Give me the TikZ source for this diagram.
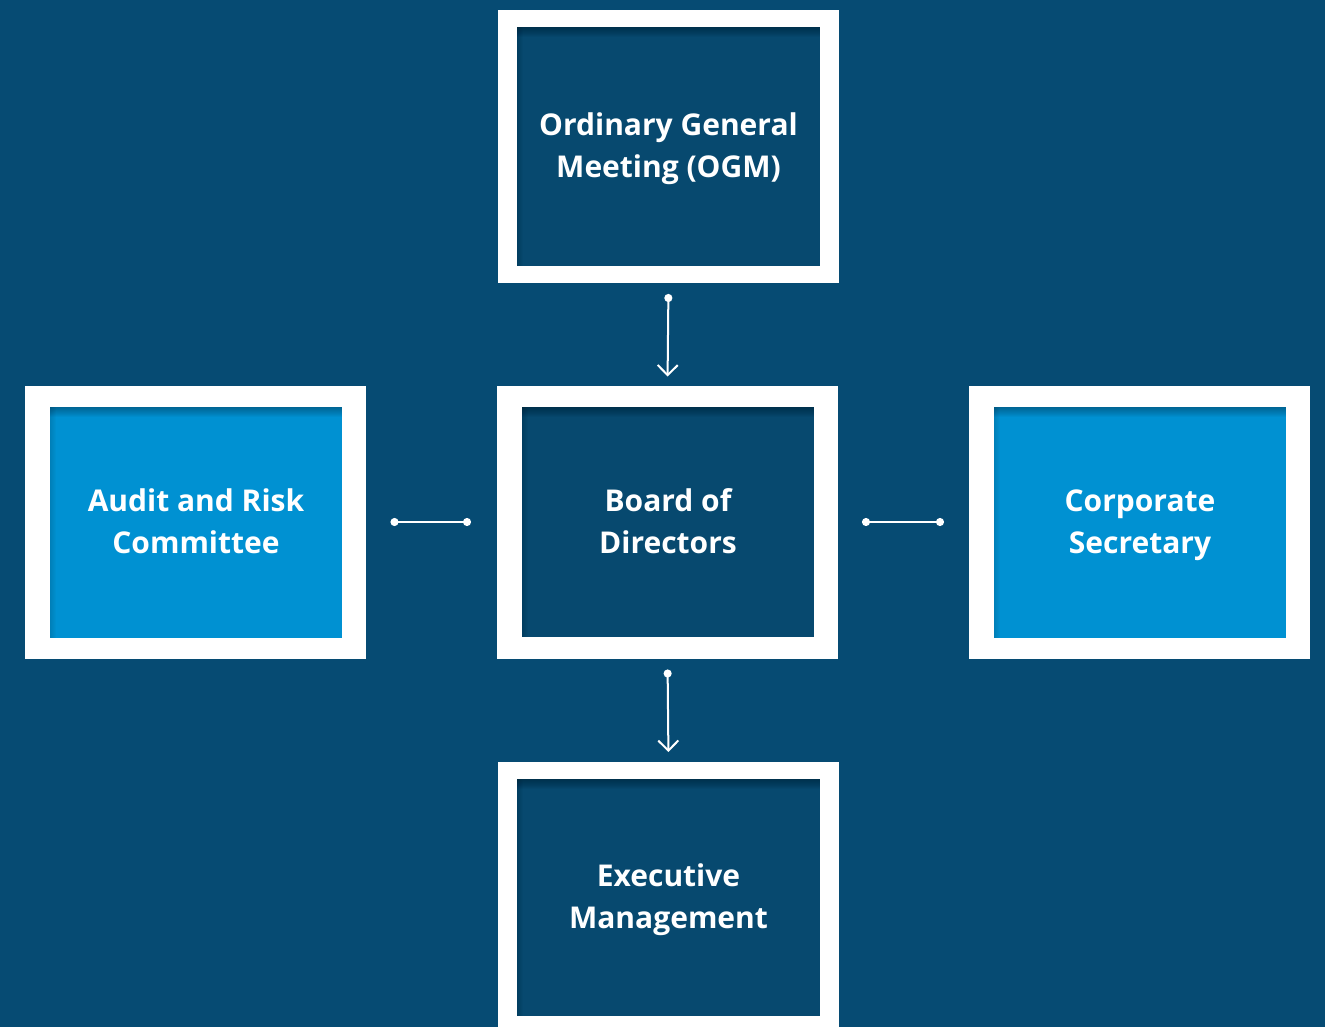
\documentclass[tikz,border=0pt]{standalone}
\usepackage{fontspec}
\setmainfont{Open Sans}
\usetikzlibrary{arrows.meta}

\definecolor{navy}{HTML}{064B73}
\definecolor{deep}{HTML}{07496F}
\definecolor{sky}{HTML}{0091D2}

\tikzset{
  frame/.style={fill=white, draw=none, inner sep=0pt, outer sep=0pt,
    minimum width=341pt, minimum height=273pt},
  panel/.style={draw=none, inner sep=0pt, outer sep=0pt, text=white,
    align=center, font=\bfseries\fontsize{30}{42}\selectfont},
  darkpanel/.style={panel, fill=deep},
  lightpanel/.style={panel, fill=sky},
  label/.style={panel, yshift=-2pt},
  link/.style={white, line width=2pt,
    {Circle[length=8pt]}-{Straight Barb[length=10pt,width=20pt,line width=2pt]}},
  tie/.style={white, line width=2pt, {Circle[length=8pt]}-{Circle[length=8pt]}}
}

% soft inner shadow along the top and left edges of a panel
\newcommand{\panelshade}[1]{%
  \foreach \k in {1,...,10}
    \fill[black, opacity=0.03] (#1.north west) rectangle ([yshift=-\k pt]#1.north east);
  \foreach \k in {1,...,6}
    \fill[black, opacity=0.02] (#1.north west) rectangle ([xshift=\k pt]#1.south west);
}

\begin{document}
\begin{tikzpicture}[x=1pt, y=-1pt]
  \fill[navy] (0,0) rectangle (1325,1027);
  \useasboundingbox (0,0) rectangle (1325,1027);
  \begin{scope}
    \clip (0,0) rectangle (1325,1027);

    % outer white frames
    \node[frame] (ogm)   at (668.5,146.5) {};
    \node[frame] (board) at (667.5,522)   {};
    \node[frame] (audit) at (195,522)     {};
    \node[frame] (corp)  at (1139.5,522)  {};
    \node[frame] (exec)  at (668.5,898.5) {};

    % coloured panels inside the frames
    \node[darkpanel, minimum width=303pt, minimum height=239pt] (ogmp) at (668.5,146.5) {};
    \node[darkpanel, minimum width=292pt, minimum height=230pt] (boardp) at (668,522) {};
    \node[lightpanel, minimum width=292pt, minimum height=231pt] (auditp) at (196,522) {};
    \node[lightpanel, minimum width=292pt, minimum height=231pt] (corpp) at (1140,522) {};
    \node[darkpanel, minimum width=303pt, minimum height=237pt] (execp) at (668.5,897.5) {};

    \panelshade{ogmp}
    \panelshade{boardp}
    \panelshade{auditp}
    \panelshade{corpp}
    \panelshade{execp}

    % labels, with struts so every two-line label sits at the same height
    \node[label] (ogmt)   at (ogmp)   {\strut Ordinary General\\Meeting (OGM)\strut};
    \node[label] (boardt) at (boardp) {\strut Board of\\Directors\strut};
    \node[label] (auditt) at (auditp) {\strut Audit and Risk\\Committee\strut};
    \node[label] (corpt)  at (corpp)  {\strut Corporate\\Secretary\strut};
    \node[label] (exect)  at (execp)  {\strut Executive\\Management\strut};

    % connectors
    \draw[link, shorten <=11pt, shorten >=9pt] (ogm.south) -- (board.north);
    \draw[link, shorten <=11pt, shorten >=10pt] (board.south) -- (exec.north);
    \draw[tie, shorten <=25pt, shorten >=26pt] (audit.east) -- (board.west);
    \draw[tie, shorten <=24pt, shorten >=25pt] (board.east) -- (corp.west);
  \end{scope}
\end{tikzpicture}
\end{document}
